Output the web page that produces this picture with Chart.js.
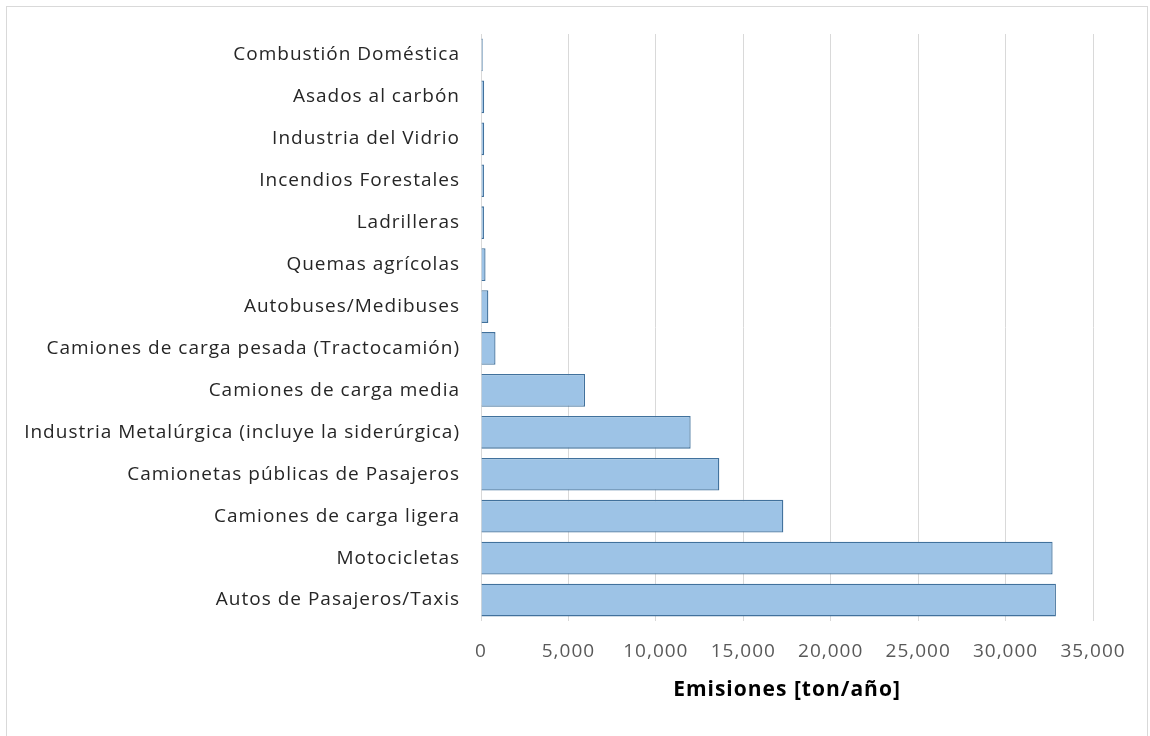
<!DOCTYPE html>
<html>
<head>
<meta charset="utf-8">
<script src="https://cdn.jsdelivr.net/npm/chart.js@4.4.1/dist/chart.umd.min.js"></script>
<style>
  html, body { margin: 0; padding: 0; background: #ffffff; }
  #wrap { position: relative; width: 1150px; height: 736px; overflow: hidden; }
  #frame { position: absolute; left: 6px; top: 6px; width: 1142px; height: 760px; border: 1px solid #d9d9d9; box-sizing: border-box; }
  #c { position: absolute; left: 0; top: 0; }
</style>
</head>
<body>
<div id="wrap">
  <div id="frame"></div>
  <canvas id="c" width="1150" height="736"></canvas>
</div>
<script>
const categories = [
  "Combustión Doméstica",
  "Asados al carbón",
  "Industria del Vidrio",
  "Incendios Forestales",
  "Ladrilleras",
  "Quemas agrícolas",
  "Autobuses/Medibuses",
  "Camiones de carga pesada (Tractocamión)",
  "Camiones de carga media",
  "Industria Metalúrgica (incluye la siderúrgica)",
  "Camionetas públicas de Pasajeros",
  "Camiones de carga ligera",
  "Motocicletas",
  "Autos de Pasajeros/Taxis"
];
const emisiones = [100, 180, 180, 170, 170, 260, 420, 830, 5950, 11990, 13630, 17290, 32690, 32880];
const xTicks = [0, 5000, 10000, 15000, 20000, 25000, 30000, 35000];
const axisTitle = "Emisiones [ton/año]";

const spacingPlugin = {
  id: 'spacing',
  beforeInit(chart) { chart.ctx.letterSpacing = '1px'; },
  beforeLayout(chart) { chart.ctx.letterSpacing = '1px'; },
  beforeDraw(chart) { chart.ctx.letterSpacing = '1px'; }
};

new Chart(document.getElementById('c'), {
  type: 'bar',
  plugins: [spacingPlugin],
  data: {
    labels: categories,
    datasets: [{
      data: emisiones,
      backgroundColor: '#9dc3e6',
      borderColor: '#41719c',
      borderWidth: 1.3,
      borderSkipped: 'start',
      barPercentage: 0.78,
      categoryPercentage: 1.0
    }]
  },
  options: {
    indexAxis: 'y',
    responsive: false,
    animation: false,
    devicePixelRatio: 1,
    layout: { padding: { top: 34, right: 57, bottom: 0, left: 0 } },
    plugins: { legend: { display: false }, tooltip: { enabled: false } },
    scales: {
      x: {
        min: 0, max: 35000,
        afterBuildTicks: (s) => { s.ticks = xTicks.map(v => ({ value: v })); },
        afterFit: (s) => { s.height = 115; },
        grid: { color: '#d9d9d9', lineWidth: 1, drawTicks: false },
        border: { display: false },
        ticks: {
          padding: 19,
          color: '#595959',
          font: { family: 'Open Sans', size: 19 },
          callback: (v) => Number(v).toLocaleString('en-US')
        },
        title: {
          display: true,
          text: axisTitle,
          color: '#000000',
          font: { family: 'Open Sans', size: 21, weight: 'bold' },
          padding: { top: 0, bottom: 33 }
        }
      },
      y: {
        afterFit: (s) => { s.width = 481; },
        grid: { display: false, drawTicks: false },
        border: { display: false },
        ticks: {
          padding: 21,
          color: '#262626',
          font: { family: 'Open Sans', size: 19 }
        }
      }
    }
  }
});
</script>
</body>
</html>
